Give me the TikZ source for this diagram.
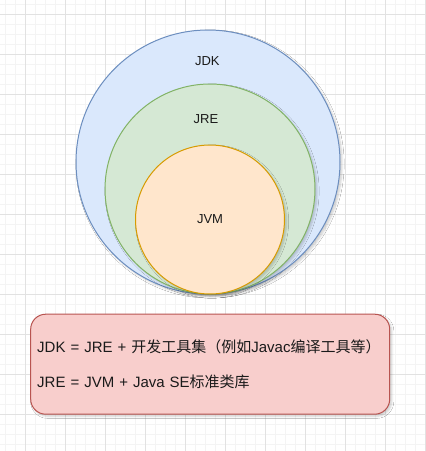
\documentclass[tikz,border=0pt]{standalone}
\usepackage{fontspec}
\setmainfont{Liberation Sans}
\newfontfamily\cjk{Noto Sans CJK SC}
\usepackage{xcolor}
\usepackage{tikz}
\usetikzlibrary{
  shapes.geometric, positioning, shadows.blur
}
\definecolor{jdkfill}{HTML}{DAE8FC}
\definecolor{jdkline}{HTML}{6C8EBF}
\definecolor{jrefill}{HTML}{D5E8D4}
\definecolor{jreline}{HTML}{82B366}
\definecolor{jvmfill}{HTML}{FFE6CC}
\definecolor{jvmline}{HTML}{D79B00}
\definecolor{notefill}{HTML}{F8CECC}
\definecolor{noteline}{HTML}{B85450}
\definecolor{gridminor}{HTML}{F4F4F4}
\definecolor{gridmajor}{HTML}{E2E2E2}
\definecolor{inkgray}{HTML}{1A1A1A}
\tikzset{
  % Nested circles
  ring/.style={
    circle, inner sep=0pt, line width=1pt,
    draw=#1line, fill=#1fill, text=inkgray,
    font=\fontsize{13}{15}\selectfont,
    blur shadow={shadow xshift=2pt, shadow yshift=-2pt,
      shadow blur steps=6, shadow opacity=20}
  },
  ringlabel/.style={text=inkgray, font=\fontsize{13}{15}\selectfont, inner sep=0pt},
  % Note box
  notebox/.style={
    rectangle, rounded corners=15pt, line width=1pt,
    draw=noteline, fill=notefill, text=inkgray,
    minimum width=359pt, minimum height=100pt,
    text width=346pt, inner xsep=6.5pt, align=left,
    font=\fontsize{15}{35}\selectfont,
    blur shadow={shadow xshift=2pt, shadow yshift=-2pt,
      shadow blur steps=6, shadow opacity=20}
  },
  % Background grid
  minorline/.style={draw=gridminor, line width=0.8pt},
  majorline/.style={draw=gridmajor, line width=0.8pt},
}

\begin{document}
\begin{tikzpicture}[x=1pt, y=-1pt]

  % Page and grid
  \useasboundingbox[fill=white] (0,0) rectangle (426,451);
  \foreach \gx in {5.3,15.3,...,425.3} \draw[minorline] (\gx,0) -- (\gx,451);
  \foreach \gy in {4.3,14.3,...,451} \draw[minorline] (0,\gy) -- (426,\gy);
  \foreach \gx in {25.3,65.3,...,425.3} \draw[majorline] (\gx,0) -- (\gx,451);
  \foreach \gy in {14.3,54.3,...,451} \draw[majorline] (0,\gy) -- (426,\gy);

  % Circles
  \node[ring=jdk, minimum size=264pt] (jdk) at (208,162) {};
  \node[ring=jre, minimum size=210pt] (jre) at (210,189) {};
  \node[ring=jvm, minimum size=149pt] (jvm) at (210,219.5) {JVM};
  \node[ringlabel] (jdklabel) at (207.3,61.2) {JDK};
  \node[ringlabel] (jrelabel) at (206,119) {JRE};

  % Note
  \node[notebox] (note) at (210.2,364.2) {JDK = JRE + {\cjk 开发工具集（例如}Javac{\cjk 编译工具等）}\\JRE = JVM + Java SE{\cjk 标准类库}};

\end{tikzpicture}
\end{document}
